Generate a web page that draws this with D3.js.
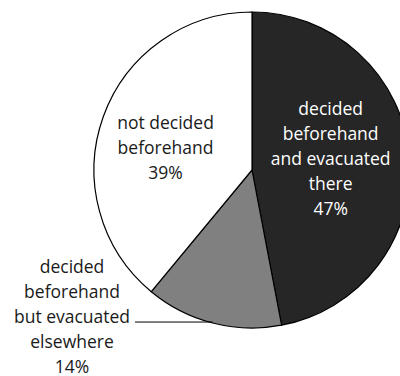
<!DOCTYPE html>
<html>
<head>
<meta charset="utf-8">
<script src="https://cdn.jsdelivr.net/npm/d3@7"></script>
<style>
  body { margin: 0; background: #fff; }
  text { font-family: "Open Sans", sans-serif; font-size: 17.5px; }
</style>
</head>
<body>
<svg id="chart" width="400" height="376"></svg>
<script>
// slices, clockwise from 12 o'clock
var labels = [
  ["decided", "beforehand", "and evacuated", "there", "47%"],
  ["decided", "beforehand", "but evacuated", "elsewhere", "14%"],
  ["not decided", "beforehand", "39%"]
];
var values = [47, 14, 39];
var fills = ["#262626", "#808080", "#ffffff"];
var textColors = ["#ffffff", "#1a1a1a", "#1a1a1a"];

var width = 400, height = 376;
var cx = 252, cy = 170, radius = 158;
var lineH = 25;

var svg = d3.select("#chart");
var g = svg.append("g").attr("transform", "translate(" + cx + "," + cy + ")");

var pie = d3.pie().sort(null).value(function(d) { return d; });
var arcs = pie(values);

var arc = d3.arc().innerRadius(0).outerRadius(radius);

g.selectAll("path.slice")
  .data(arcs)
  .enter().append("path")
  .attr("class", "slice")
  .attr("d", arc)
  .attr("fill", function(d, i) { return fills[i]; })
  .attr("stroke", "#000")
  .attr("stroke-width", 1.2);

function writeLines(x, y, lines, color) {
  var t = g.append("text")
    .attr("text-anchor", "middle")
    .attr("fill", color);
  lines.forEach(function(s, k) {
    t.append("tspan")
      .attr("x", x)
      .attr("y", y + (k - (lines.length - 1) / 2) * lineH)
      .attr("dy", "0.35em")
      .text(s);
  });
}

// black slice: label at centroid
var c0 = arc.centroid(arcs[0]);
writeLines(c0[0], c0[1] - 4, labels[0], textColors[0]);

// white slice: label a bit further out
var arcWhite = d3.arc().innerRadius(radius * 0.5).outerRadius(radius * 0.65);
var c2 = arcWhite.centroid(arcs[2]);
writeLines(c2[0] - 1, c2[1] + 9, labels[2], textColors[2]);

// gray slice: outside label with leader line
var mid = (arcs[1].startAngle + arcs[1].endAngle) / 2;
var px = Math.sin(mid) * radius, py = -Math.cos(mid) * radius;
var lx = 72 - cx;
g.append("line")
  .attr("x1", px).attr("y1", py - 1)
  .attr("x2", lx + 63).attr("y2", py - 1)
  .attr("stroke", "#000").attr("stroke-width", 1);
writeLines(lx, py - 6, labels[1], textColors[1]);
</script>
</body>
</html>
